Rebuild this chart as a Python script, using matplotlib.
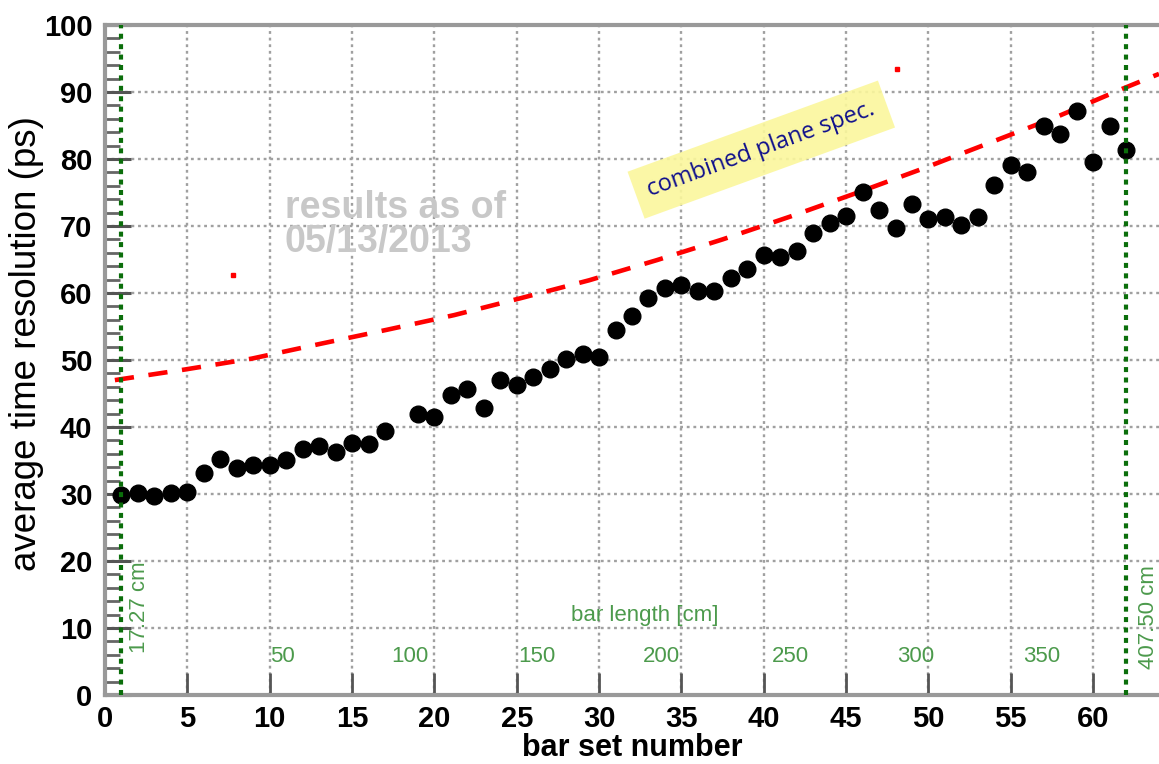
import numpy as np
import matplotlib.pyplot as plt

plt.rcParams['font.family'] = ['Liberation Sans', 'DejaVu Sans']

# measured average time resolution per bar set (set 18 missing)
bar_set = [1, 2, 3, 4, 5, 6, 7, 8, 9, 10, 11, 12, 13, 14, 15, 16, 17,
           19, 20, 21, 22, 23, 24, 25, 26, 27, 28, 29, 30, 31, 32, 33, 34,
           35, 36, 37, 38, 39, 40, 41, 42, 43, 44, 45, 46, 47, 48, 49, 50,
           51, 52, 53, 54, 55, 56, 57, 58, 59, 60, 61, 62]
resolution = [29.9, 30.1, 29.7, 30.1, 30.3, 33.1, 35.2, 33.9, 34.3, 34.4,
              35.1, 36.7, 37.2, 36.3, 37.6, 37.5, 39.4,
              42.0, 41.5, 44.8, 45.6, 42.9, 47.0, 46.3, 47.4, 48.7, 50.2,
              50.9, 50.5, 54.5, 56.5, 59.3, 60.7, 61.2, 60.3, 60.3, 62.3,
              63.6, 65.7, 65.4, 66.2, 68.9, 70.4, 71.5, 75.1, 72.4, 69.7,
              73.3, 71.0, 71.4, 70.1, 71.4, 76.1, 79.1, 78.0, 84.9, 83.8,
              87.1, 79.5, 84.9, 81.4]

# combined plane spec curve
spec_x = [0.6, 4.9, 8.9, 13.05, 17.1, 21.2, 25.2, 29.4, 33.5, 37.5, 41.6,
          45.6, 49.7, 53.7, 57.8, 61.8, 64.0]
spec_y = [47.0, 48.6, 50.2, 52.4, 54.5, 56.7, 59.2, 61.9, 64.9, 68.0, 71.4,
          74.9, 78.6, 82.4, 86.3, 90.5, 92.7]

# stray red pixels
stray_x = [7.8, 48.1]
stray_y = [62.7, 93.5]

# bar length markers
edge_sets = [1, 62]
edge_labels = ["17.27 cm", "407.50 cm"]
length_ticks = [50, 100, 150, 200, 250, 300, 350]
length_pos = [10.8, 18.5, 26.2, 33.8, 41.6, 49.2, 56.9]

fig = plt.figure(figsize=(11.59, 7.64), dpi=100)
ax = fig.add_axes([105 / 1159, 69 / 764, 1054 / 1159, 670 / 764])
ax.set_xlim(0, 64)
ax.set_ylim(0, 100)

ax.grid(True, which='major', color='#a0a0a0', linestyle=(0, (1.2, 1.6)),
        linewidth=1.7, zorder=0)
ax.set_axisbelow(True)

ax.plot(spec_x, spec_y, color='red', linewidth=3.3,
        linestyle=(0, (4.2, 3.2)), zorder=3)
ax.plot(stray_x, stray_y, 's', color='red', markersize=2.5, zorder=3)
ax.plot(bar_set, resolution, 'o', color='black', markersize=12, zorder=4)

for xs in edge_sets:
    ax.axvline(xs, color='#0b6e0b', linewidth=3, linestyle=(0, (1.2, 1.3)),
               zorder=5)

green = '#4c9a4c'
ax.text(2.1, 13.1, edge_labels[0], rotation=90, color=green, fontsize=16,
        ha='center', va='center')
ax.text(63.35, 11.7, edge_labels[1], rotation=90, color=green, fontsize=16,
        ha='center', va='center', clip_on=False)
ax.text(32.8, 11.9, "bar length [cm]", color=green, fontsize=16,
        ha='center', va='center')
for p, t in zip(length_pos, length_ticks):
    ax.text(p, 5.7, str(t), color=green, fontsize=16, ha='center', va='center')

ax.text(10.9, 75.4, "results as of\n05/13/2013", color='#c8c8c8',
        fontsize=27, fontweight='bold', ha='left', va='top', linespacing=0.95)

ax.text(39.85, 81.4, "combined plane spec.", rotation=20, rotation_mode='anchor',
        color='#10108c', fontsize=17, family=['Open Sans', 'DejaVu Sans'],
        ha='center', va='center', zorder=6,
        bbox=dict(boxstyle='square,pad=0.55', facecolor='#fbf79c',
                  edgecolor='none', alpha=0.9))

ax.set_xticks(np.arange(0, 61, 5))
ax.set_yticks(np.arange(0, 101, 10))
ax.set_yticks(np.arange(0, 101, 2), minor=True)
ax.tick_params(axis='x', which='major', direction='in', length=16, width=2,
               color='#555555', labelsize=21, pad=7)
ax.tick_params(axis='y', which='major', direction='in', length=19, width=2.2,
               color='#555555', labelsize=21, pad=9)
ax.tick_params(axis='y', which='minor', direction='in', length=11, width=2,
               color='#666666')
for lab in ax.get_xticklabels() + ax.get_yticklabels():
    lab.set_fontweight('bold')

for side in ['left', 'bottom', 'top']:
    ax.spines[side].set_color('#999999')
    ax.spines[side].set_linewidth(3)
ax.spines['right'].set_visible(False)

ax.set_xlabel("bar set number", fontsize=22, fontweight='bold')
ax.xaxis.set_label_coords(0.5, -0.057)
ax.set_ylabel("average time resolution (ps)", fontsize=26.5)
ax.yaxis.set_label_coords(-0.058, 0.524)

fig.savefig('out.png', dpi=100)
